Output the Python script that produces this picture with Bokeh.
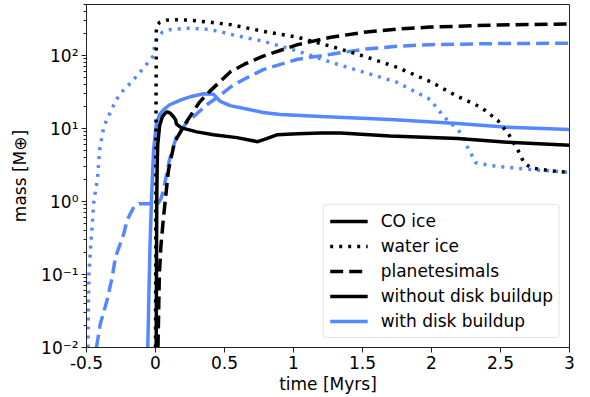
from bokeh.plotting import figure
from bokeh.models import Range1d, FixedTicker, CustomJSTickFormatter, Legend, LegendItem
from bokeh.embed import file_html
from bokeh.resources import INLINE

# ---- data (time in Myrs, mass in Earth masses) ----
co_wo_t = [0.005, 0.007, 0.009, 0.012, 0.016, 0.03, 0.05, 0.07, 0.087, 0.11, 0.13, 0.145, 0.152, 0.188, 0.30, 0.42, 0.59, 0.74, 0.80, 0.88, 1.03, 1.2, 1.34, 1.7, 2.19, 2.55, 3.0]
co_wo_y = [0.01, 0.1, 1.0, 3.0, 6.0, 11.0, 14.5, 16.2, 17.0, 16.0, 14.5, 13.2, 11.5, 10.2, 9.0, 8.2, 7.5, 6.6, 7.2, 8.2, 8.5, 8.7, 8.7, 7.9, 7.3, 6.5, 5.9]

co_w_t = [-0.056, -0.048, -0.040, -0.029, -0.014, 0.007, 0.03, 0.058, 0.1, 0.18, 0.26, 0.348, 0.42, 0.47, 0.54, 0.66, 0.78, 0.906, 1.2, 1.7, 2.19, 2.55, 3.0]
co_w_y = [0.01, 0.05, 0.24, 1.05, 5.1, 12.0, 15.5, 18.0, 21.0, 24.5, 27.5, 30.0, 29.5, 23.5, 20.6, 18.5, 16.6, 15.6, 14.6, 13.3, 11.7, 10.4, 9.7]

h2o_wo_t = [0.0, 0.002, 0.004, 0.006, 0.03, 0.08, 0.15, 0.25, 0.40, 0.543, 0.78, 1.03, 1.27, 1.51, 1.75, 1.99, 2.19, 2.36, 2.48, 2.56, 2.63, 2.67, 2.72, 2.85, 3.0]
h2o_wo_y = [0.01, 0.5, 20.0, 250.0, 285.0, 305.0, 310.0, 305.0, 285.0, 265.0, 215.0, 178.0, 134.0, 98.0, 69.0, 44.0, 27.5, 19.5, 12.9, 8.3, 4.9, 3.4, 2.9, 2.65, 2.5]

h2o_w_t = [-0.49, -0.483, -0.47, -0.447, -0.42, -0.405, -0.377, -0.355, -0.283, -0.23, -0.181, -0.109, -0.06, -0.014, -0.005, 0.02, 0.05, 0.1, 0.225, 0.36, 0.46, 0.543, 0.64, 0.78, 1.03, 1.27, 1.51, 1.75, 1.99, 2.09, 2.19, 2.23, 2.26, 2.29, 2.32, 2.43, 2.67, 3.0]
h2o_w_y = [0.01, 0.1, 0.24, 1.0, 2.1, 5.1, 10.0, 13.0, 25.0, 34.0, 42.0, 60.0, 78.0, 100.0, 150.0, 178.0, 210.0, 225.0, 237.0, 230.0, 215.0, 195.0, 178.0, 157.0, 115.0, 81.0, 59.0, 43.0, 25.0, 14.5, 9.7, 7.8, 5.6, 4.4, 3.4, 3.1, 2.8, 2.5]

pl_wo_t = [0.018, 0.028, 0.039, 0.058, 0.094, 0.138, 0.225, 0.319, 0.391, 0.543, 0.645, 0.78, 1.03, 1.27, 1.51, 1.75, 1.99, 2.48, 3.0]
pl_wo_y = [0.01, 0.1, 0.24, 0.61, 2.7, 6.5, 12.4, 23.0, 32.0, 60.0, 76.0, 98.0, 141.0, 178.0, 208.0, 230.0, 245.0, 262.0, 270.0]

pl_w_t = [-0.428, -0.40, -0.35, -0.314, -0.29, -0.23, -0.205, -0.157, -0.12, 0.0, 0.02, 0.04, 0.058, 0.101, 0.152, 0.225, 0.30, 0.37, 0.464, 0.543, 0.638, 0.78, 1.03, 1.27, 1.51, 1.75, 1.99, 2.5, 3.0]
pl_w_y = [0.01, 0.021, 0.045, 0.092, 0.173, 0.36, 0.56, 0.84, 0.93, 0.93, 0.95, 1.1, 1.44, 3.7, 7.8, 12.0, 16.0, 21.0, 28.0, 37.0, 47.0, 64.0, 89.0, 104.0, 122.0, 134.0, 141.0, 146.0, 147.0]

x_ticks = [-0.5, 0.0, 0.5, 1.0, 1.5, 2.0, 2.5, 3.0]
y_ticks = [0.01, 0.1, 1.0, 10.0, 100.0]
legend_labels = ["CO ice", "water ice", "planetesimals", "without disk buildup", "with disk buildup"]

BLACK = "#000000"
BLUE = "#5588ff"
FONT = "DejaVu Sans"
FS = "17px"
LW = 3.5
DOT = "3 6"
DASH = "13 6"

p = figure(width=590, height=397, y_axis_type="log",
           x_range=Range1d(-0.5, 3.0), y_range=Range1d(0.01, 500),
           output_backend="svg", toolbar_location=None,
           min_border_left=86, min_border_right=21, min_border_top=4, min_border_bottom=50)
p.grid.visible = False
p.outline_line_color = "#222222"
p.outline_line_width = 1

p.line(h2o_w_t, h2o_w_y, line_color=BLUE, line_width=LW, line_dash=DOT)
p.line(pl_w_t, pl_w_y, line_color=BLUE, line_width=LW, line_dash=DASH)
r_blue = p.line(co_w_t, co_w_y, line_color=BLUE, line_width=LW)
r_dot = p.line(h2o_wo_t, h2o_wo_y, line_color=BLACK, line_width=LW, line_dash=DOT)
r_dash = p.line(pl_wo_t, pl_wo_y, line_color=BLACK, line_width=LW, line_dash=DASH)
r_solid = p.line(co_wo_t, co_wo_y, line_color=BLACK, line_width=LW)

legend = Legend(items=[LegendItem(label=l, renderers=[r]) for l, r in
                       zip(legend_labels, [r_solid, r_dot, r_dash, r_solid, r_blue])],
                location="bottom_right", margin=9, padding=6, spacing=5,
                glyph_width=38, glyph_height=20, label_height=20, label_standoff=13,
                label_text_font=FONT, label_text_font_size=FS, label_text_color="black",
                border_line_color="#cccccc", border_line_width=1,
                background_fill_color="white", background_fill_alpha=0.8)
if "border_radius" in Legend.properties():
    legend.border_radius = 4
p.add_layout(legend)

p.xaxis.ticker = FixedTicker(ticks=x_ticks)
p.xaxis.formatter = CustomJSTickFormatter(code="return String(tick);")
minor = [k * 10.0 ** e for e in range(-2, 3) for k in range(2, 10) if k * 10.0 ** e <= 500]
p.yaxis.ticker = FixedTicker(ticks=y_ticks, minor_ticks=minor)
p.yaxis.formatter = CustomJSTickFormatter(code="""
const sup = {'-':'\u207b','0':'\u2070','1':'\u00b9','2':'\u00b2','3':'\u00b3','4':'\u2074','5':'\u2075'};
const e = Math.round(Math.log10(tick));
return '10' + String(e).split('').map(c => sup[c]).join('');
""")

for ax in [p.xaxis[0], p.yaxis[0]]:
    ax.axis_line_color = "#222222"
    ax.major_tick_line_color = "#222222"
    ax.minor_tick_line_color = "#222222"
    ax.major_tick_in = 0
    ax.major_tick_out = 5
    ax.minor_tick_in = 0
    ax.minor_tick_out = 3
    ax.major_label_text_font = FONT
    ax.major_label_text_font_size = FS
    ax.major_label_text_color = "black"
    ax.axis_label_text_font = FONT
    ax.axis_label_text_font_size = FS
    ax.axis_label_text_font_style = "normal"
    ax.axis_label_text_color = "black"
    ax.major_label_standoff = 3
p.xaxis.minor_tick_line_color = None
p.xaxis.axis_label = "time [Myrs]"
p.yaxis.axis_label = "mass [M\u2295]"
p.xaxis.axis_label_standoff = 2
p.yaxis.axis_label_standoff = 8

open("out.html", "w").write(file_html(p, INLINE))
